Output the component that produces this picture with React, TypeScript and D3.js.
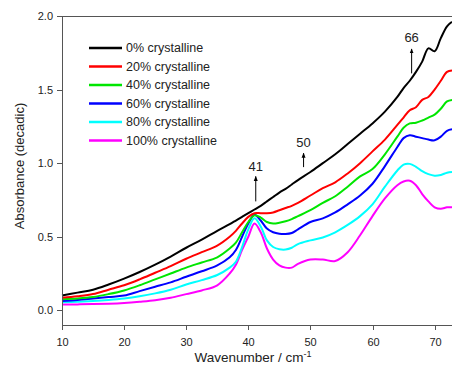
import React from 'react'
import { scaleLinear, line, curveCatmullRom } from 'd3'

const wavenumbers = [10, 12.5, 15, 17.5, 20, 22.5, 25, 27.5, 30, 32.5, 35, 37, 38, 39, 40, 41, 42, 43, 44, 45, 46, 47, 48, 50, 52, 54, 56, 58, 60, 62, 64, 65, 66, 67, 68, 69, 70, 71, 72, 72.8]

const cryst0 = [0.10, 0.12, 0.14, 0.175, 0.215, 0.26, 0.31, 0.365, 0.425, 0.48, 0.54, 0.585, 0.61, 0.635, 0.66, 0.685, 0.71, 0.74, 0.77, 0.80, 0.825, 0.855, 0.885, 0.94, 1.0, 1.06, 1.13, 1.20, 1.27, 1.35, 1.45, 1.51, 1.56, 1.62, 1.69, 1.78, 1.76, 1.85, 1.93, 1.96]
const cryst20 = [0.085, 0.095, 0.11, 0.14, 0.17, 0.21, 0.255, 0.30, 0.35, 0.395, 0.44, 0.50, 0.54, 0.59, 0.635, 0.66, 0.66, 0.66, 0.665, 0.68, 0.695, 0.71, 0.73, 0.78, 0.83, 0.87, 0.93, 1.0, 1.08, 1.16, 1.26, 1.31, 1.36, 1.38, 1.43, 1.45, 1.50, 1.56, 1.62, 1.63]
const cryst40 = [0.075, 0.08, 0.09, 0.11, 0.135, 0.17, 0.21, 0.25, 0.29, 0.325, 0.36, 0.42, 0.46, 0.53, 0.60, 0.645, 0.63, 0.60, 0.59, 0.595, 0.605, 0.62, 0.64, 0.68, 0.73, 0.775, 0.84, 0.91, 0.96, 1.06, 1.18, 1.24, 1.27, 1.275, 1.29, 1.31, 1.33, 1.37, 1.42, 1.43]
const cryst60 = [0.063, 0.07, 0.08, 0.09, 0.10, 0.13, 0.16, 0.19, 0.228, 0.265, 0.305, 0.36, 0.41, 0.50, 0.59, 0.65, 0.61, 0.555, 0.53, 0.52, 0.518, 0.525, 0.55, 0.60, 0.625, 0.665, 0.72, 0.78, 0.86, 0.98, 1.11, 1.17, 1.19, 1.18, 1.17, 1.16, 1.155, 1.18, 1.22, 1.23]
const cryst80 = [0.055, 0.058, 0.063, 0.07, 0.08, 0.095, 0.115, 0.14, 0.175, 0.205, 0.24, 0.29, 0.33, 0.43, 0.55, 0.625, 0.57, 0.475, 0.43, 0.415, 0.413, 0.425, 0.45, 0.475, 0.495, 0.53, 0.58, 0.64, 0.72, 0.84, 0.95, 0.99, 0.995, 0.975, 0.945, 0.925, 0.915, 0.92, 0.935, 0.94]
const cryst100 = [0.04, 0.04, 0.042, 0.045, 0.05, 0.058, 0.068, 0.085, 0.11, 0.135, 0.17, 0.25, 0.31, 0.41, 0.50, 0.59, 0.53, 0.42, 0.345, 0.305, 0.29, 0.29, 0.315, 0.345, 0.345, 0.335, 0.395, 0.51, 0.64, 0.76, 0.85, 0.875, 0.88, 0.85, 0.79, 0.74, 0.70, 0.69, 0.70, 0.70]

const seriesNames = ['0% crystalline', '20% crystalline', '40% crystalline', '60% crystalline', '80% crystalline', '100% crystalline']
const seriesValues = [cryst0, cryst20, cryst40, cryst60, cryst80, cryst100]
const seriesColors = ['#000000', '#ff0000', '#00e600', '#0000ff', '#00ffff', '#ff00ff']

const xTicks = [10, 20, 30, 40, 50, 60, 70]
const yTicks = [0.0, 0.5, 1.0, 1.5, 2.0]

// peak markers: label, wavenumber, arrow tail, arrow tip, label baseline
const peakLabels = ['41', '50', '66']
const peakX = [41.2, 48.9, 66.3]
const peakTail = [0.74, 0.973, 1.61]
const peakTip = [0.91, 1.068, 1.776]
const peakText = [0.95, 1.11, 1.82]

export default function App() {
  const width = 452
  const height = 365
  const margin = {top: 16, right: 0, bottom: 40, left: 62}

  const x = scaleLinear().domain([10, 72.8]).range([margin.left, width - margin.right])
  const y = scaleLinear().domain([-0.1, 2.0]).range([height - margin.bottom, margin.top])

  const path = line<number>()
    .x((_, i) => x(wavenumbers[i]))
    .y(d => y(d))
    .curve(curveCatmullRom.alpha(0.5))

  const axisColor = '#555'
  const textColor = '#222'
  const font = 'Liberation Sans, Arial, sans-serif'
  const x0 = margin.left
  const yBottom = height - margin.bottom

  return (
    <svg width={width} height={height} style={{position: 'absolute', left: 0, top: 0}} fontFamily={font}>
      <defs>
        <marker id="arr" viewBox="0 0 10 10" refX="9" refY="5" markerWidth="5" markerHeight="7" orient="auto">
          <path d="M0,1 L10,5 L0,9 z" fill="#000" />
        </marker>
      </defs>

      {seriesValues.map((vals, i) => (
        <path key={i} d={path(vals) || ''} fill="none" stroke={seriesColors[i]} strokeWidth={2} strokeLinejoin="round" />
      )).reverse()}

      {/* frame + axes */}
      <line x1={x0} x2={width} y1={margin.top + 0.5} y2={margin.top + 0.5} stroke={axisColor} />
      <line x1={x0 + 0.5} x2={x0 + 0.5} y1={margin.top} y2={yBottom} stroke={axisColor} />
      <line x1={x0} x2={width} y1={yBottom + 0.5} y2={yBottom + 0.5} stroke={axisColor} />

      {yTicks.map(t => (
        <g key={t} transform={`translate(0,${Math.round(y(t)) + 0.5})`}>
          <line x1={x0 - 5} x2={x0} stroke={axisColor} />
          <text x={x0 - 9} dy="0.35em" textAnchor="end" fontSize={11} fill={textColor}>{t.toFixed(1)}</text>
        </g>
      ))}
      {xTicks.map(t => (
        <g key={t} transform={`translate(${Math.round(x(t)) + 0.5},0)`}>
          <line y1={yBottom} y2={yBottom + 5} stroke={axisColor} />
          <text y={yBottom + 21} textAnchor="middle" fontSize={11} fill={textColor}>{t}</text>
        </g>
      ))}

      <text transform="translate(24,166) rotate(-90)" textAnchor="middle" fontSize={13} fill={textColor}>
        Absorbance (decadic)
      </text>
      <text x={253} y={362} textAnchor="middle" fontSize={13.5} fill={textColor}>
        Wavenumber / cm<tspan dy="-5" fontSize={9}>-1</tspan>
      </text>

      {/* legend */}
      {seriesNames.map((name, i) => (
        <g key={name} transform={`translate(89,${48 + i * 18.5})`}>
          <line x1={0} x2={33} stroke={seriesColors[i]} strokeWidth={2.5} />
          <text x={37} dy="0.35em" fontSize={12.5} fill={textColor}>{name}</text>
        </g>
      ))}

      {/* peak annotations */}
      {peakLabels.map((lab, i) => (
        <g key={lab}>
          <line x1={x(peakX[i])} x2={x(peakX[i])} y1={y(peakTail[i])} y2={y(peakTip[i])} stroke="#000" strokeWidth={1} markerEnd="url(#arr)" />
          <text x={x(peakX[i])} y={y(peakText[i])} textAnchor="middle" fontSize={13} fill={textColor}>{lab}</text>
        </g>
      ))}
    </svg>
  )
}
